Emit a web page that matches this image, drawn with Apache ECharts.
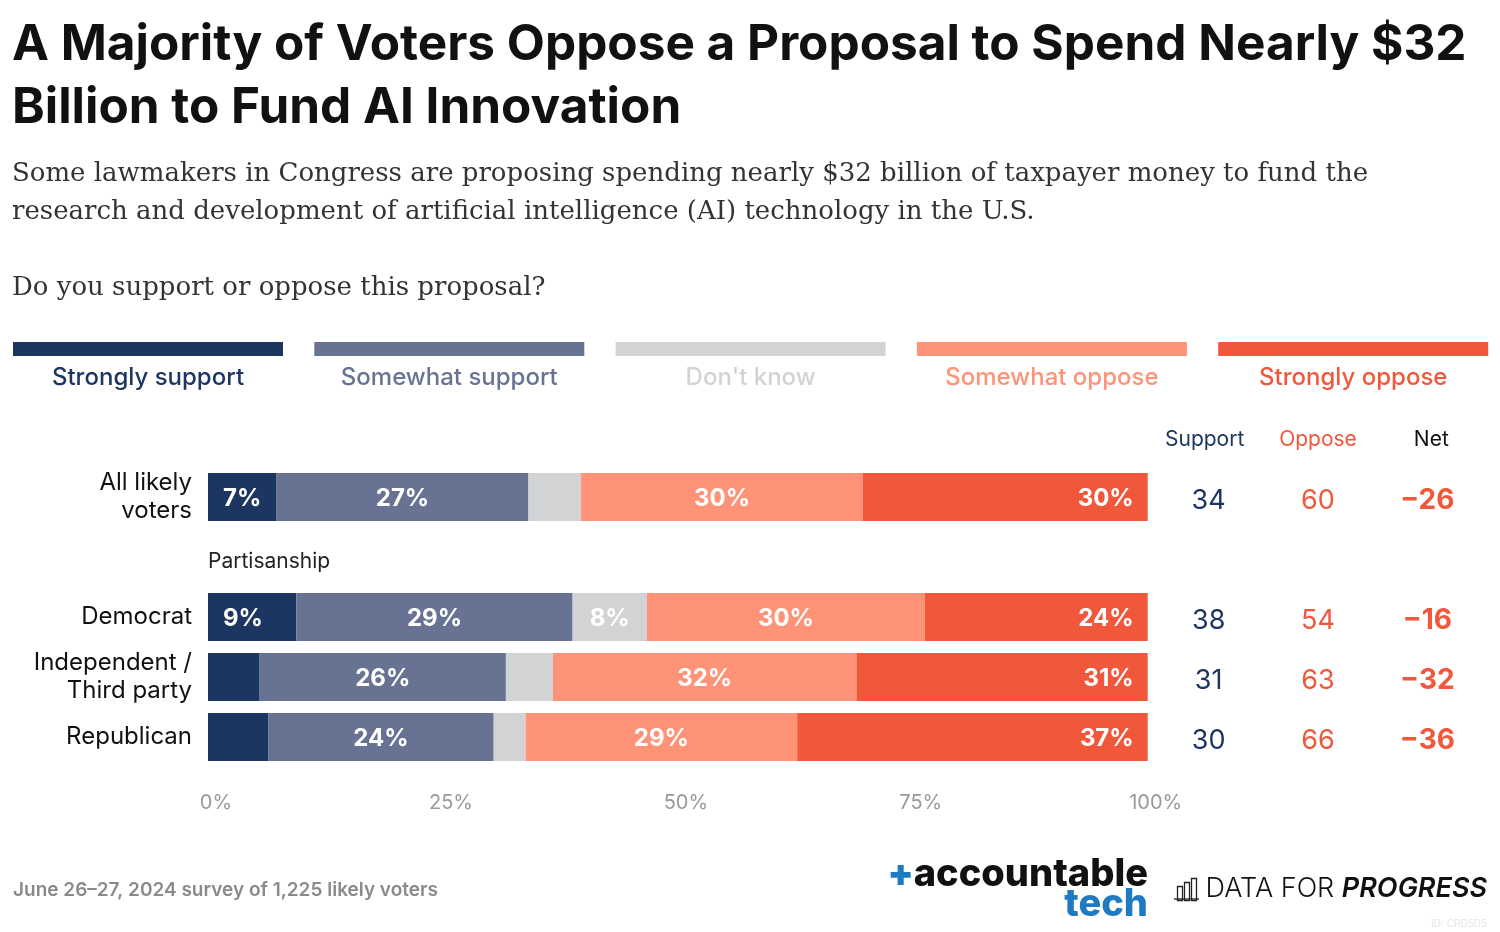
<!DOCTYPE html>
<html>
<head>
<meta charset="utf-8">
<script src="https://cdn.jsdelivr.net/npm/echarts@6/dist/echarts.min.js"></script>
<style>
html,body{margin:0;padding:0;background:#fff;}
#chart{width:1500px;height:932px;}
</style>
</head>
<body>
<div id="chart"></div>
<script>
// ---- data ----
const categories = ['All likely\nvoters', '', 'Democrat', 'Independent /\nThird party', 'Republican'];
const seriesNames = ['Strongly support', 'Somewhat support', "Don't know", 'Somewhat oppose', 'Strongly oppose'];
const stronglySupport = [7.3, null, 9.4, 5.5, 6.4];
const somewhatSupport = [26.8, null, 29.4, 26.2, 24.0];
const dontKnow = [5.6, null, 7.9, 5.0, 3.4];
const somewhatOppose = [30.0, null, 29.6, 32.3, 28.9];
const stronglyOppose = [30.3, null, 23.7, 31.0, 37.3];
const supportTotals = [34, null, 38, 31, 30];
const opposeTotals = [60, null, 54, 63, 66];
const netValues = [-26, null, -16, -32, -36];
const tableColumns = ['Support', 'Oppose', 'Net'];
const xTicks = [0, 25, 50, 75, 100];

const colors = ['#1c3661', '#687393', '#d2d3d5', '#fe9377', '#f1583b'];
const FONT = 'Inter, Lato, sans-serif';

const values = [stronglySupport, somewhatSupport, dontKnow, somewhatOppose, stronglyOppose];

function barSeries(i) {
  let pos = 'inside', dist = 5;
  if (i === 0) { pos = 'insideLeft'; dist = 15; }
  if (i === 4) { pos = 'insideRight'; dist = 14; }
  return {
    name: seriesNames[i],
    type: 'bar',
    stack: 'total',
    barWidth: 48,
    xAxisIndex: 0, yAxisIndex: 0,
    itemStyle: { color: colors[i] },
    data: values[i],
    label: {
      show: true,
      position: pos,
      distance: dist,
      color: '#fff',
      fontFamily: FONT,
      fontWeight: 'bold',
      fontSize: 24,
      offset: [0, 2],
      formatter: p => (p.value == null || p.value < 7) ? '' : Math.round(p.value) + '%'
    }
  };
}

function tableSeries(col, arr, color, bold, size, dx, fmt) {
  return {
    type: 'scatter',
    xAxisIndex: 1, yAxisIndex: 1,
    symbolSize: 2,
    itemStyle: { color: 'rgba(0,0,0,0)', opacity: 1 },
    data: arr.map((v, i) => v == null ? null : [col, i, v]).filter(d => d),
    label: {
      show: true,
      position: 'inside',
      color: color,
      opacity: 1,
      offset: [dx, 4],
      fontFamily: FONT,
      fontSize: size,
      fontWeight: bold ? 'bold' : 'normal',
      formatter: p => fmt(p.value[2])
    }
  };
}

// legend graphics
const legendGraphics = [];
const legendLeft = 13, legendW = 270, legendGap = 31.3;
seriesNames.forEach((n, i) => {
  const x = legendLeft + i * (legendW + legendGap);
  legendGraphics.push({ type: 'rect', left: x, top: 342, shape: { width: legendW, height: 14 }, style: { fill: colors[i] } });
  legendGraphics.push({ type: 'text', x: x + legendW / 2, y: 378, style: { text: n, fill: colors[i], font: '500 24px ' + FONT, textAlign: 'center', textVerticalAlign: 'middle' } });
});

const chart = echarts.init(document.getElementById('chart'));
chart.setOption({
  backgroundColor: '#fff',
  animation: false,
  title: [
    {
      text: 'A Majority of Voters Oppose a Proposal to Spend Nearly $32\nBillion to Fund AI Innovation',
      left: 12, top: 14, padding: 0,
      textStyle: { fontFamily: FONT, fontWeight: 'bold', fontSize: 49.5, lineHeight: 63, color: '#111' }
    },
    {
      text: 'Some lawmakers in Congress are proposing spending nearly $32 billion of taxpayer money to fund the\nresearch and development of artificial intelligence (AI) technology in the U.S.\n\nDo you support or oppose this proposal?',
      left: 12, top: 155, padding: 0,
      textStyle: { fontFamily: '"DejaVu Serif", serif', fontWeight: 'normal', fontSize: 26, lineHeight: 38, color: '#333' }
    }
  ],
  grid: [
    { left: 208, right: 352.3, top: 467, height: 300, containLabel: false },
    { left: 1148, right: 12, top: 467, height: 300, containLabel: false }
  ],
  xAxis: [
    {
      type: 'value', gridIndex: 0, min: 0, max: 100, interval: 25,
      axisLine: { show: false }, axisTick: { show: false }, splitLine: { show: false },
      axisLabel: { color: '#999', fontFamily: FONT, fontSize: 20, margin: 26, padding: [0, 0, 0, 16], formatter: v => xTicks.includes(v) ? v + '%' : '' }
    },
    {
      type: 'category', gridIndex: 1, position: 'top', data: tableColumns.map((c, i) => ({ value: c, textStyle: { color: ['#1c3661', '#f1583b', '#111'][i] } })),
      axisLine: { show: false }, axisTick: { show: false }, splitLine: { show: false },
      axisLabel: { fontFamily: FONT, fontSize: 21, margin: 17 }
    }
  ],
  yAxis: [
    {
      type: 'category', gridIndex: 0, inverse: true, data: categories,
      axisLine: { show: false }, axisTick: { show: false },
      axisLabel: { color: '#111', fontFamily: FONT, fontSize: 24, lineHeight: 28, margin: 16, align: 'right' }
    },
    {
      type: 'category', gridIndex: 1, inverse: true, data: categories, show: false
    }
  ],
  series: [
    barSeries(0), barSeries(1), barSeries(2), barSeries(3), barSeries(4),
    tableSeries('Support', supportTotals, '#1c3661', false, 27, 4, v => String(v)),
    tableSeries('Oppose', opposeTotals, '#f1583b', false, 27, 0, v => String(v)),
    tableSeries('Net', netValues, '#f1583b', true, 28, -4, v => (v < 0 ? '\u2212' + Math.abs(v) : '+' + v))
  ],
  graphic: legendGraphics.concat([
    { type: 'text', x: 208, y: 562, style: { text: 'Partisanship', fill: '#222', font: '21px ' + FONT, textVerticalAlign: 'middle' } },
    { type: 'text', x: 13, y: 890, style: { text: 'June 26\u201327, 2024 survey of 1,225 likely voters', fill: '#8a8a8a', font: '600 19px ' + FONT, textVerticalAlign: 'middle' } },
    { type: 'text', x: 1148, y: 875, style: { text: '{p|+}{a|accountable}', rich: { p: { fill: '#1f7bc1', font: '900 38px ' + FONT }, a: { fill: '#111', font: '800 38px ' + FONT } }, textAlign: 'right', textVerticalAlign: 'middle' } },
    { type: 'text', x: 1148, y: 905, style: { text: 'tech', fill: '#1f7bc1', font: '800 38px ' + FONT, textAlign: 'right', textVerticalAlign: 'middle' } },
    { type: 'rect', left: 1175, top: 884, shape: { width: 5, height: 14 }, style: { fill: 'none', stroke: '#222', lineWidth: 1.3 } },
    { type: 'rect', left: 1182, top: 880, shape: { width: 5, height: 18 }, style: { fill: 'none', stroke: '#222', lineWidth: 1.3 } },
    { type: 'rect', left: 1189, top: 876, shape: { width: 5, height: 22 }, style: { fill: 'none', stroke: '#222', lineWidth: 1.3 } },
    { type: 'line', shape: { x1: 1174, y1: 899, x2: 1199, y2: 899 }, style: { stroke: '#222', lineWidth: 1.3 } },
    { type: 'text', x: 1487, y: 889, style: { text: '{a|DATA FOR }{b|PROGRESS}', rich: { a: { fill: '#111', font: '300 27px ' + FONT }, b: { fill: '#111', font: 'italic 600 27px ' + FONT } }, textAlign: 'right', textVerticalAlign: 'middle' } },
    { type: 'text', x: 1487, y: 924, style: { text: 'ID: CRD5D5', fill: '#e4e4e4', font: '10px ' + FONT, textAlign: 'right', textVerticalAlign: 'middle' } }
  ])
});
</script>
</body>
</html>
